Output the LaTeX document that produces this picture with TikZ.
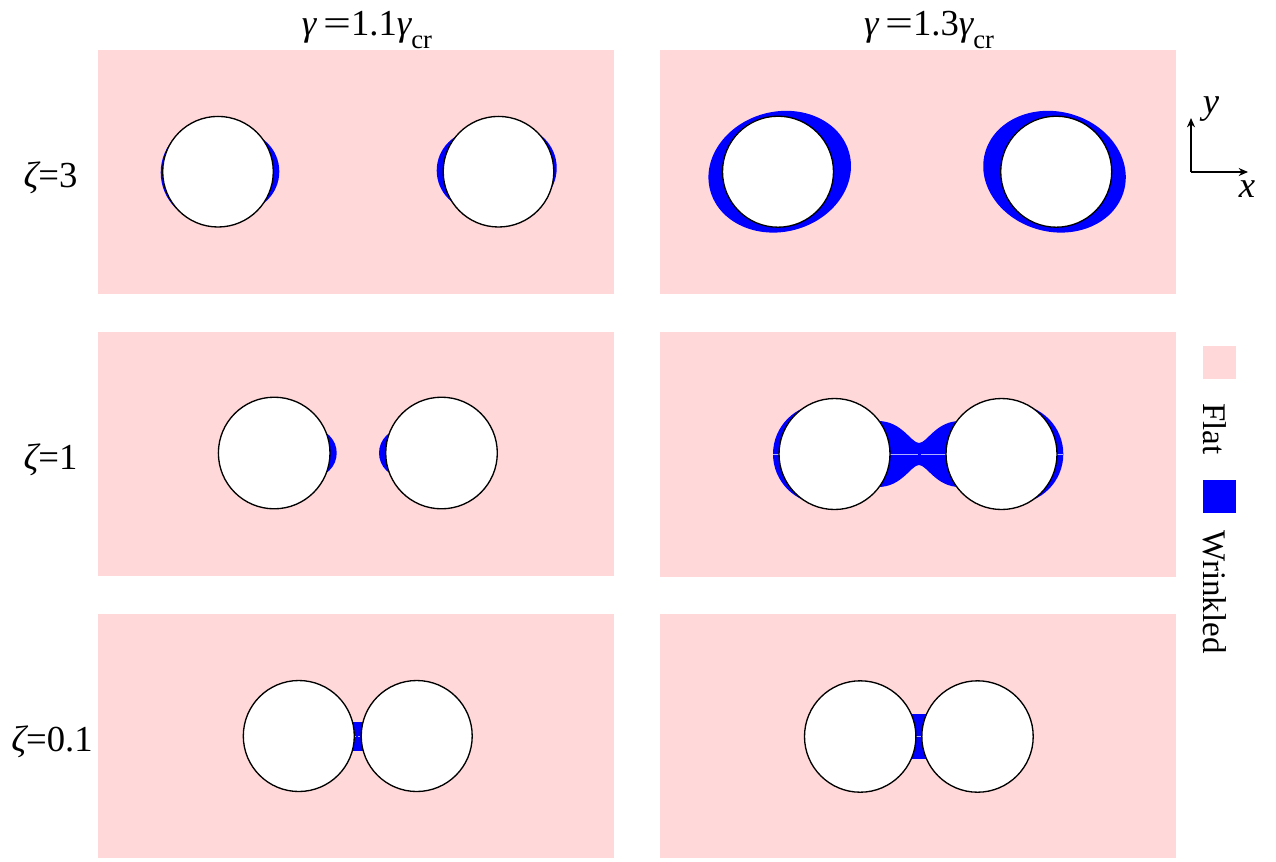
\documentclass[tikz,border=0pt]{standalone}
\usepackage{fontspec}
\usepackage{graphicx}
\setmainfont{Liberation Serif}
\usetikzlibrary{arrows.meta}
\definecolor{flat}{RGB}{255,217,218}
\definecolor{wrink}{RGB}{0,0,255}
\definecolor{seam}{RGB}{175,175,255}
% crescent of wrinkled film beside a hole: cx cy r dir D h
\newcommand\wcres[6]{%
  \pgfmathsetmacro\wa{#5-sqrt(#3*#3-#6*#6)}%
  \pgfmathsetmacro\wR{(\wa*\wa+#6*#6)/(2*\wa)}%
  \pgfmathsetmacro\wc{#1+#4*(#5-\wR)}%
  \fill[wrink] (\wc,#2) circle[radius=\wR];}
\tikzset{
  panel/.style={fill=flat},
  hole/.style={fill=white,draw=black,line width=1pt},
  lbl/.style={font=\fontsize{24.75}{30}\selectfont,inner sep=0pt},
  biglbl/.style={font=\fontsize{27.5}{32}\selectfont,inner sep=0pt},
  axisarrow/.style={line width=1.1pt,-{Stealth[length=7pt,width=6pt]}},
  seamline/.style={draw=seam,line width=0.4pt}
}
\newcommand\gsub[1]{{\itshape γ}\raisebox{-10pt}{\fontsize{20}{21}\selectfont #1}}
\newcommand\weq{\hspace{5pt}\scalebox{1.35}[1]{=}}
\begin{document}
\begin{tikzpicture}[x=0.75pt,y=-0.75pt]
\useasboundingbox (0,0) rectangle (1276,861);
% panels
\fill[panel] (98,50) rectangle (614,294);
\fill[panel] (660,50) rectangle (1176,294);
\fill[panel] (98,332) rectangle (614,576);
\fill[panel] (660,332) rectangle (1176,577);
\fill[panel] (98,614) rectangle (614,858);
\fill[panel] (660,614) rectangle (1176,858);

% ---- row 1, left
\wcres{218}{171.5}{55.5}{1}{61.3}{32}
\wcres{218}{172.5}{55.5}{-1}{57.3}{34}
\wcres{498.5}{170.5}{55.5}{-1}{61.8}{32.5}
\wcres{498.5}{168}{55.5}{1}{58.2}{26}
\filldraw[hole] (218,171.7) circle[radius=55.3];
\filldraw[hole] (498.5,171.7) circle[radius=55.3];

% ---- row 1, right
\fill[wrink,rotate around={15:(779.7,171.7)}] (779.7,171.7) ellipse[x radius=72,y radius=60];
\fill[wrink,rotate around={-15:(1054.5,171.7)}] (1054.5,171.7) ellipse[x radius=72,y radius=60];
\filldraw[hole] (778,171.7) circle[radius=55.5];
\filldraw[hole] (1056.2,171.7) circle[radius=55.5];

% ---- row 2, left
\wcres{274.2}{453}{55.8}{1}{62.5}{20}
\wcres{441.5}{453}{55.8}{-1}{62.5}{20}
\filldraw[hole] (274.2,453) circle[radius=55.8];
\filldraw[hole] (441.5,453) circle[radius=55.8];

% ---- row 2, right
\wcres{834.5}{454}{55.5}{-1}{61.5}{46}
\wcres{1001.5}{454}{55.5}{1}{61.8}{46}
\fill[wrink] (860,421) -- (878,421)
  .. controls (902,421) and (911,443) .. (919,443)
  .. controls (927,443) and (936,421) .. (960,421) -- (980,421) -- (980,487) -- (960,487)
  .. controls (936,487) and (927,465) .. (919,465)
  .. controls (911,465) and (902,487) .. (878,487) -- (860,487) -- cycle;
\draw[seamline] (773,454) -- (917.5,454);
\draw[seamline] (920.5,454) -- (1063,454);
\filldraw[hole] (834.5,454) circle[radius=55.5];
\filldraw[hole] (1001.5,454) circle[radius=55.5];

% ---- row 3, left
\fill[wrink] (353.3,721.7) rectangle (362.7,751);
\draw[seamline,dash pattern=on 1.5pt off 1.5pt] (353.5,736) -- (362.5,736);
\filldraw[hole] (298.8,736) circle[radius=55.5];
\filldraw[hole] (416.7,736) circle[radius=55.5];

% ---- row 3, right
\fill[wrink] (911.7,714.3) rectangle (926,759.3);
\draw[seamline] (912,736.5) -- (925.5,736.5);
\filldraw[hole] (860.2,736.5) circle[radius=55.7];
\filldraw[hole] (977.5,736.5) circle[radius=55.7];

% ---- column labels
\node[biglbl,anchor=base] (c1) at (367,35) {{\itshape γ}\weq1.1\gsub{cr}};
\node[biglbl,anchor=base] (c2) at (929,35) {{\itshape γ}\weq1.3\gsub{cr}};
% ---- row labels
\node[biglbl,anchor=base] (r1) at (50.5,187) {{\itshape ζ}=3};
\node[biglbl,anchor=base] (r2) at (50.5,469) {{\itshape ζ}=1};
\node[biglbl,anchor=base] (r3) at (52,751) {{\itshape ζ}=0.1};

% ---- axes
\coordinate (O) at (1191,172);
\coordinate (Yt) at (1191,118);
\coordinate (Xt) at (1248,172);
\draw[axisarrow] (O) -- (Yt);
\draw[axisarrow] (O) -- (Xt);
\node[biglbl,anchor=center] (ylab) at (1211,109) {\itshape y};
\node[biglbl,anchor=center] (xlab) at (1247,189) {\itshape x};

% ---- legend
\fill[flat] (1203,346) rectangle (1236,379);
\fill[wrink] (1203,480) rectangle (1236,513);
\node[lbl,rotate=-90,anchor=center] (lflat) at (1215,429) {Flat};
\node[lbl,rotate=-90,anchor=center] (lwr) at (1215,592) {Wrinkled};
\end{tikzpicture}
\end{document}
